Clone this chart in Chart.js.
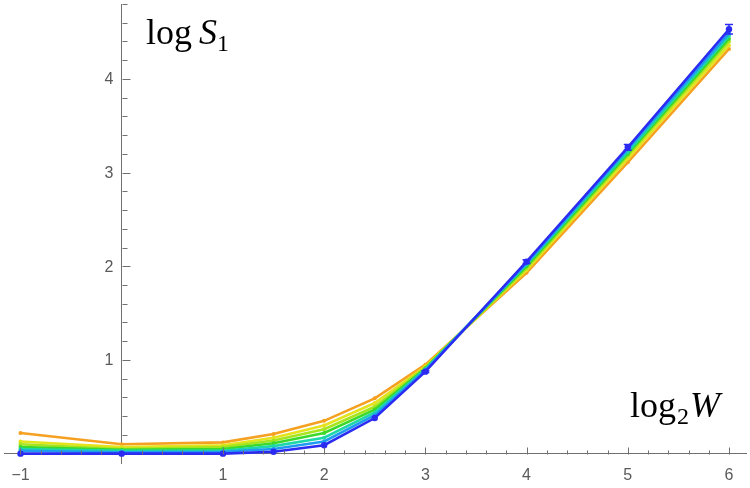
<!DOCTYPE html>
<html><head><meta charset="utf-8">
<script src="https://cdn.jsdelivr.net/npm/chart.js@4.4.0/dist/chart.umd.min.js"></script>
<style>html,body{margin:0;padding:0;background:#fff}#wrap{width:750px;height:488px;position:relative}</style>
</head><body><div id="wrap"><canvas id="c" width="750" height="488"></canvas></div>
<script>
// x values: log2 W
const log2W = [-1, 0, 1, 1.5, 2, 2.5, 3, 4, 5, 6];
// series values: log S1 (orange -> blue)
const sOrange = [0.22, 0.10, 0.12, 0.21, 0.35, 0.59, 0.95, 1.93, 3.11, 4.32];
const sYellow = [0.13, 0.07, 0.09, 0.17, 0.30, 0.54, 0.93, 1.96, 3.15, 4.36];
const sLime   = [0.10, 0.05, 0.07, 0.14, 0.26, 0.50, 0.92, 1.98, 3.18, 4.40];
const sGreen  = [0.07, 0.04, 0.05, 0.11, 0.22, 0.47, 0.91, 2.00, 3.20, 4.43];
const sTeal   = [0.05, 0.03, 0.03, 0.08, 0.17, 0.44, 0.90, 2.02, 3.22, 4.46];
const sAzure  = [0.03, 0.015, 0.02, 0.05, 0.13, 0.41, 0.89, 2.03, 3.25, 4.49];
const sBlue   = [0.00, 0.00, 0.00, 0.02, 0.09, 0.38, 0.875, 2.05, 3.27, 4.53];
const errBlue = [0, 0, 0, 0, 0, 0, 0.01, 0.02, 0.03, 0.05];
// tick labels
const xTickValues = [-1, 1, 2, 3, 4, 5, 6];
const yTickValues = [1, 2, 3, 4];
const yAxisLabel = ['log', 'S', '1'];
const xAxisLabel = ['log', '2', 'W'];

const seriesList = [
  {name: 'blue', data: sBlue, color: '#2B2BF2', err: errBlue},
  {name: 'azure', data: sAzure, color: '#1E9BF0'},
  {name: 'teal', data: sTeal, color: '#1ED7A8'},
  {name: 'green', data: sGreen, color: '#3CD92A'},
  {name: 'lime', data: sLime, color: '#A6E51E'},
  {name: 'yellow', data: sYellow, color: '#E5E21E'},
  {name: 'orange', data: sOrange, color: '#F5A021'}
];

const datasets = seriesList.map(s => ({
  label: s.name,
  data: log2W.map((x, i) => ({x: x, y: s.data[i]})),
  borderColor: s.color,
  backgroundColor: s.color,
  borderWidth: 2.6,
  pointRadius: s.name === 'blue' ? 3.2 : 2,
  pointBorderWidth: 0,
  tension: 0,
  errors: s.err || null
}));

const TICK_FONT = '16px "Liberation Sans", Arial, sans-serif';
const TICK_COLOR = '#5a5a5a';

const tickPlugin = {
  id: 'mmaTicks',
  afterDatasetsDraw(chart) {
    const {ctx} = chart;
    const xs = chart.scales.x, ys = chart.scales.y;
    const y0 = Math.round(ys.getPixelForValue(0)) + 0.5;
    const x0 = Math.round(xs.getPixelForValue(0)) + 0.5;
    ctx.save();
    // error bars
    chart.data.datasets.forEach(ds => {
      if (!ds.errors) return;
      ctx.strokeStyle = ds.borderColor; ctx.lineWidth = 1.5;
      ds.data.forEach((p, i) => {
        const e = ds.errors[i]; if (!e) return;
        const px = xs.getPixelForValue(p.x);
        const pt = ys.getPixelForValue(p.y + e), pb = ys.getPixelForValue(p.y - e);
        ctx.beginPath();
        ctx.moveTo(px, pt); ctx.lineTo(px, pb);
        ctx.moveTo(px - 4, pt); ctx.lineTo(px + 4, pt);
        ctx.moveTo(px - 4, pb); ctx.lineTo(px + 4, pb);
        ctx.stroke();
      });
    });
    ctx.strokeStyle = '#707070'; ctx.lineWidth = 1;
    ctx.beginPath();
    for (let k = -5; k <= 30; k++) {
      const v = k / 5;
      const px = Math.round(xs.getPixelForValue(v)) + 0.5;
      if (px < 0 || px > 750 || k === 0) continue;
      const len = (k % 5 === 0) ? 7 : 4;
      ctx.moveTo(px, y0); ctx.lineTo(px, y0 - len);
    }
    for (let k = 1; k <= 24; k++) {
      const v = k / 5;
      const py = Math.round(ys.getPixelForValue(v)) + 0.5;
      if (py < 0) continue;
      const len = (k % 5 === 0) ? 8 : 5;
      ctx.moveTo(x0, py); ctx.lineTo(x0 + len, py);
    }
    ctx.stroke();
    // y tick labels (left of the axis, positioned by the y scale)
    ctx.font = TICK_FONT; ctx.fillStyle = TICK_COLOR;
    ctx.textAlign = 'right'; ctx.textBaseline = 'middle';
    yTickValues.forEach(v => {
      ctx.fillText(String(v), x0 - 9, ys.getPixelForValue(v) + 1);
    });
    // axis labels
    ctx.textAlign = 'left';
    ctx.fillStyle = '#000';
    ctx.textBaseline = 'alphabetic';
    const big = '36px "Liberation Serif", serif';
    const bigI = 'italic 36px "Liberation Serif", serif';
    const sub = '24px "Liberation Serif", serif';
    // log S1
    let tx = 146, ty = 44;
    ctx.font = big; ctx.fillText(yAxisLabel[0], tx, ty); tx += ctx.measureText(yAxisLabel[0] + ' ').width - 2;
    ctx.font = bigI; ctx.fillText(yAxisLabel[1], tx, ty); tx += ctx.measureText(yAxisLabel[1]).width;
    ctx.font = sub; ctx.fillText(yAxisLabel[2], tx, ty + 7);
    // log2 W
    tx = 630; ty = 417;
    ctx.font = big; ctx.fillText(xAxisLabel[0], tx, ty); tx += ctx.measureText(xAxisLabel[0]).width + 1;
    ctx.font = sub; ctx.fillText(xAxisLabel[1], tx, ty + 7); tx += ctx.measureText(xAxisLabel[1]).width + 1;
    ctx.font = bigI; ctx.fillText(xAxisLabel[2], tx, ty);
    ctx.restore();
  }
};

const bgPlugin = {
  id: 'bg',
  beforeDraw(chart) {
    const {ctx} = chart;
    ctx.save(); ctx.fillStyle = '#fff'; ctx.fillRect(0, 0, chart.width, chart.height); ctx.restore();
  }
};

new Chart(document.getElementById('c'), {
  type: 'line',
  data: {datasets},
  options: {
    responsive: false,
    devicePixelRatio: 1,
    animation: false,
    layout: {padding: {left: 0, right: 0, top: 0, bottom: 25}},
    plugins: {legend: {display: false}, tooltip: {enabled: false}},
    scales: {
      x: {
        type: 'linear',
        position: {y: 0},
        min: -1.163, max: 6.168,
        afterBuildTicks: s => { s.ticks = xTickValues.map(v => ({value: v})); },
        afterFit: s => { s.height = 0; s.paddingLeft = 0; s.paddingRight = 0; s.paddingTop = 0; s.paddingBottom = 0; },
        grid: {display: true, drawOnChartArea: false, drawTicks: false},
        border: {display: true, color: '#707070', width: 1},
        ticks: {
          padding: 12,
          color: TICK_COLOR,
          font: {family: '"Liberation Sans", Arial, sans-serif', size: 16},
          maxRotation: 0,
          autoSkip: false,
          callback: v => (v < 0 ? '\u2212' + Math.abs(v) : String(v))
        }
      },
      y: {
        type: 'linear',
        position: {x: 0},
        min: -0.1, max: 4.8,
        afterBuildTicks: s => { s.ticks = yTickValues.map(v => ({value: v})); },
        afterFit: s => { s.width = 0; s.paddingLeft = 0; s.paddingRight = 0; s.paddingTop = 0; s.paddingBottom = 0; },
        grid: {display: true, drawOnChartArea: false, drawTicks: false},
        border: {display: true, color: '#707070', width: 1},
        ticks: {display: false}
      }
    }
  },
  plugins: [bgPlugin, tickPlugin]
});
</script>
</body></html>
